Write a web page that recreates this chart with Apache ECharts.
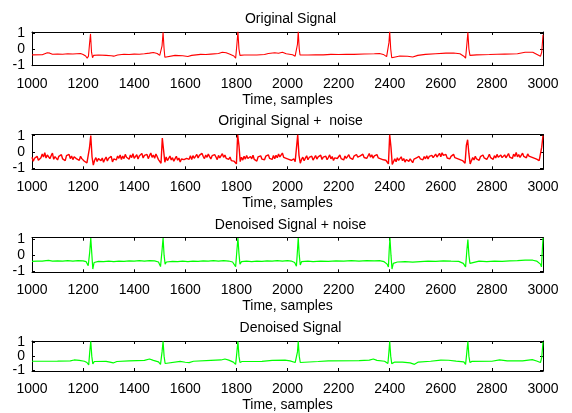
<!DOCTYPE html>
<html>
<head>
<meta charset="utf-8">
<script src="https://cdn.jsdelivr.net/npm/echarts@6/dist/echarts.min.js"></script>
<style>
  html, body { margin: 0; padding: 0; background: #fff; }
  #chart { width: 572px; height: 413px; }
</style>
</head>
<body>
<div id="chart"></div>
<script>
// Panel titles and shared axis settings
const panelTitles = ['Original Signal', 'Original Signal +  noise', 'Denoised Signal + noise', 'Denoised Signal'];
const xAxisName = 'Time, samples';
const xTicks = [1000, 1200, 1400, 1600, 1800, 2000, 2200, 2400, 2600, 2800, 3000];
const yTicks = [-1, 0, 1];

// ECG record, [sample, amplitude]
const originalSignal = [
  [1000,-0.37],[1040,-0.36],[1050,-0.30],[1060,-0.24],[1070,-0.26],[1080,-0.33],[1100,-0.31],[1120,-0.33],
  [1140,-0.30],[1160,-0.31],[1190,-0.28],[1200,-0.34],[1210,-0.44],[1216,-0.58],[1221,-0.45],[1225,0.30],
  [1229,0.95],[1233,-0.20],[1237,-0.55],[1241,-0.40],[1260,-0.38],[1290,-0.40],[1310,-0.42],[1320,-0.45],
  [1335,-0.38],[1360,-0.33],[1380,-0.35],[1400,-0.32],[1420,-0.33],[1440,-0.30],[1460,-0.26],[1475,-0.22],
  [1490,-0.28],[1500,-0.40],[1505,-0.50],[1509,0.20],[1513,1.05],[1517,0.00],[1520,-0.52],[1525,-0.40],
  [1560,-0.40],[1590,-0.42],[1610,-0.47],[1625,-0.40],[1660,-0.34],[1680,-0.35],[1700,-0.32],[1730,-0.28],
  [1745,-0.20],[1760,-0.24],[1775,-0.33],[1790,-0.44],[1797,-0.58],[1802,0.30],[1806,1.10],[1810,0.00],
  [1814,-0.40],[1830,-0.38],[1880,-0.38],[1910,-0.35],[1925,-0.28],[1950,-0.24],[1965,-0.27],[1980,-0.20],
  [1995,-0.30],[2020,-0.36],[2030,-0.45],[2036,-0.52],[2039,0.30],[2042,1.10],[2046,0.00],[2049,-0.38],
  [2080,-0.38],[2110,-0.36],[2140,-0.37],[2170,-0.34],[2200,-0.35],[2230,-0.33],[2260,-0.34],[2300,-0.31],
  [2340,-0.30],[2360,-0.28],[2375,-0.34],[2388,-0.48],[2393,-0.58],[2397,0.40],[2400,1.10],[2404,0.00],
  [2408,-0.55],[2415,-0.45],[2440,-0.44],[2470,-0.46],[2490,-0.50],[2510,-0.40],[2540,-0.34],[2580,-0.30],
  [2620,-0.26],[2650,-0.25],[2675,-0.30],[2690,-0.45],[2697,-0.58],[2702,0.30],[2706,1.05],[2710,0.00],
  [2714,-0.40],[2740,-0.37],[2790,-0.35],[2820,-0.33],[2850,-0.32],[2900,-0.30],[2930,-0.20],[2960,-0.20],
  [2975,-0.33],[2990,-0.46],[2995,-0.20],[3000,0.90]
];

// Same record with added noise, one value every 5 samples from sample 1000
const noisyStart = 1000;
const noisyStep = 5;
const noisySignal = [
  -0.32,-0.56,-0.38,-0.48,-0.26,-0.50,-0.60,-0.34,-0.12,-0.30,
  -0.04,-0.36,-0.18,-0.10,-0.40,-0.22,-0.06,-0.44,-0.28,-0.20,
  -0.48,-0.26,-0.38,-0.16,-0.42,-0.30,-0.52,-0.22,-0.34,-0.14,
  -0.40,-0.24,-0.46,-0.28,-0.18,-0.42,-0.32,-0.50,-0.26,-0.40,
  -0.34,-0.56,-0.44,-0.66,-0.55,0.25,1.00,-0.30,-0.80,-0.50,
  -0.34,-0.58,-0.40,-0.28,-0.52,-0.36,-0.62,-0.44,-0.30,-0.54,
  -0.38,-0.50,-0.26,-0.60,-0.42,-0.32,-0.48,-0.24,-0.38,-0.18,
  -0.46,-0.24,-0.40,-0.14,-0.32,-0.22,-0.44,-0.18,-0.34,-0.10,
  -0.38,-0.26,-0.16,-0.42,-0.24,-0.32,-0.08,-0.36,-0.20,-0.30,
  -0.14,-0.40,-0.22,-0.06,-0.32,-0.18,-0.38,-0.12,-0.28,-0.46,
  -0.55,-0.68,0.85,0.80,-0.62,-0.30,-0.52,-0.38,-0.24,-0.48,
  -0.34,-0.56,-0.40,-0.26,-0.50,-0.36,-0.60,-0.42,-0.32,-0.46,
  -0.54,-0.38,-0.28,-0.44,-0.22,-0.46,-0.22,-0.38,-0.28,-0.14,
  -0.36,-0.20,-0.30,-0.08,-0.26,-0.40,-0.18,-0.32,-0.12,-0.28,
  -0.42,-0.22,-0.34,-0.16,-0.30,-0.46,-0.20,-0.36,-0.24,-0.10,
  -0.32,-0.18,-0.38,-0.26,-0.44,-0.30,-0.52,-0.40,-0.55,-0.65,
  -0.72,1.05,0.40,-0.58,-0.31,-0.49,-0.25,-0.43,-0.21,-0.39,
  -0.51,-0.27,-0.41,-0.19,-0.45,-0.33,-0.55,-0.29,-0.37,-0.23,
  -0.43,-0.31,-0.47,-0.25,-0.35,-0.17,-0.39,-0.27,-0.45,-0.21,
  -0.40,-0.20,-0.34,-0.12,-0.30,-0.18,-0.06,-0.32,-0.22,-0.38,
  -0.26,-0.44,-0.32,-0.50,-0.52,-0.42,-0.58,-0.68,1.05,-0.20,
  -0.68,-0.45,-0.31,-0.53,-0.37,-0.23,-0.47,-0.33,-0.41,-0.25,
  -0.49,-0.35,-0.21,-0.43,-0.29,-0.39,-0.19,-0.45,-0.31,-0.37,
  -0.25,-0.47,-0.33,-0.17,-0.41,-0.27,-0.51,-0.35,-0.23,-0.39,
  -0.32,-0.18,-0.40,-0.28,-0.48,-0.24,-0.38,-0.30,-0.16,-0.36,
  -0.29,-0.45,-0.25,-0.37,-0.15,-0.31,-0.43,-0.23,-0.35,-0.13,
  -0.33,-0.21,-0.39,-0.27,-0.09,-0.31,-0.17,-0.37,-0.23,-0.29,
  -0.15,-0.35,-0.25,-0.41,-0.31,-0.47,-0.55,-0.50,-0.62,-0.72,
  1.05,0.30,-0.75,-0.58,-0.41,-0.59,-0.35,-0.51,-0.43,-0.29,
  -0.53,-0.39,-0.61,-0.45,-0.33,-0.57,-0.41,-0.49,-0.65,-0.43,
  -0.51,-0.35,-0.47,-0.27,-0.41,-0.33,-0.47,-0.27,-0.41,-0.23,
  -0.42,-0.26,-0.38,-0.20,-0.34,-0.24,-0.12,-0.30,-0.18,-0.08,
  -0.28,-0.04,-0.20,-0.32,-0.14,-0.36,-0.24,-0.42,-0.26,-0.34,
  -0.14,-0.34,-0.24,-0.40,-0.28,-0.46,-0.38,-0.52,-0.58,-0.68,
  0.40,0.75,-0.10,-0.72,-0.52,-0.34,-0.48,-0.26,-0.42,-0.32,
  -0.50,-0.28,-0.40,-0.18,-0.36,-0.24,-0.44,-0.30,-0.14,-0.34,
  -0.28,-0.44,-0.22,-0.36,-0.14,-0.32,-0.42,-0.18,-0.34,-0.24,
  -0.17,-0.35,-0.25,-0.09,-0.31,-0.21,-0.39,-0.13,-0.27,-0.03,
  -0.29,-0.15,-0.33,-0.21,-0.07,-0.27,-0.17,-0.35,-0.11,-0.25,
  -0.13,-0.31,-0.21,-0.37,-0.27,-0.43,-0.33,-0.52,-0.62,0.30,
  1.00
];

// Denoiser output for the noisy record, [sample, amplitude]
const denoisedNoisy = [
  [1000,-0.38],[1020,-0.36],[1040,-0.37],[1055,-0.33],[1065,-0.32],[1080,-0.36],[1100,-0.35],[1120,-0.37],
  [1140,-0.34],[1160,-0.36],[1180,-0.33],[1200,-0.35],[1212,-0.40],[1220,-0.65],[1226,0.20],[1230,1.05],
  [1234,0.10],[1238,-0.85],[1243,-0.45],[1260,-0.38],[1280,-0.40],[1300,-0.37],[1320,-0.39],[1340,-0.36],
  [1360,-0.38],[1380,-0.35],[1400,-0.37],[1420,-0.34],[1440,-0.36],[1460,-0.33],[1480,-0.35],[1495,-0.42],
  [1503,-0.70],[1509,0.30],[1513,1.05],[1517,0.00],[1521,-0.55],[1526,-0.42],[1550,-0.38],[1570,-0.40],
  [1590,-0.37],[1610,-0.39],[1630,-0.36],[1650,-0.38],[1670,-0.35],[1690,-0.37],[1710,-0.34],[1730,-0.36],
  [1750,-0.33],[1770,-0.36],[1785,-0.42],[1797,-0.70],[1802,0.30],[1806,1.05],[1810,0.10],[1814,-0.55],
  [1820,-0.40],[1840,-0.37],[1860,-0.39],[1880,-0.36],[1900,-0.38],[1920,-0.35],[1940,-0.37],[1960,-0.34],
  [1980,-0.36],[2000,-0.33],[2015,-0.36],[2028,-0.45],[2035,-0.68],[2039,0.30],[2042,1.05],[2046,0.00],
  [2050,-0.60],[2055,-0.40],[2080,-0.37],[2100,-0.39],[2130,-0.36],[2160,-0.38],[2190,-0.35],[2220,-0.37],
  [2250,-0.34],[2280,-0.36],[2310,-0.33],[2340,-0.35],[2360,-0.33],[2378,-0.40],[2390,-0.55],[2395,-0.72],
  [2398,0.30],[2401,1.05],[2405,0.00],[2409,-0.85],[2414,-0.50],[2430,-0.42],[2460,-0.40],[2490,-0.43],
  [2520,-0.39],[2550,-0.36],[2580,-0.38],[2610,-0.35],[2640,-0.37],[2670,-0.38],[2688,-0.50],[2697,-0.72],
  [2702,0.30],[2706,0.95],[2710,0.00],[2714,-0.50],[2720,-0.40],[2750,-0.37],[2780,-0.39],[2810,-0.36],
  [2840,-0.38],[2870,-0.35],[2900,-0.34],[2930,-0.30],[2960,-0.31],[2975,-0.36],[2990,-0.55],[2994,-0.72],
  [2998,0.50],[3000,1.05]
];

// Denoiser output for the clean record, [sample, amplitude]
const denoisedSignal = [
  [1000,-0.36],[1100,-0.35],[1150,-0.33],[1165,-0.27],[1185,-0.30],[1205,-0.36],[1215,-0.45],[1222,-0.62],
  [1226,0.30],[1230,1.05],[1234,0.00],[1238,-0.55],[1244,-0.38],[1290,-0.37],[1305,-0.42],[1318,-0.48],
  [1332,-0.38],[1380,-0.33],[1440,-0.30],[1460,-0.20],[1475,-0.30],[1495,-0.40],[1503,-0.58],[1509,0.30],
  [1513,1.05],[1517,0.00],[1521,-0.52],[1528,-0.38],[1580,-0.37],[1600,-0.43],[1615,-0.46],[1632,-0.36],
  [1700,-0.30],[1740,-0.27],[1755,-0.20],[1770,-0.28],[1788,-0.42],[1797,-0.58],[1802,0.30],[1806,1.05],
  [1810,0.00],[1814,-0.45],[1822,-0.38],[1900,-0.37],[1940,-0.30],[1990,-0.28],[2010,-0.33],[2030,-0.45],
  [2036,-0.55],[2039,0.30],[2042,1.05],[2046,0.00],[2050,-0.45],[2056,-0.38],[2120,-0.38],[2160,-0.33],
  [2280,-0.31],[2320,-0.28],[2336,-0.20],[2350,-0.30],[2380,-0.36],[2393,-0.52],[2397,0.30],[2400,1.05],
  [2404,0.00],[2408,-0.53],[2420,-0.42],[2450,-0.42],[2480,-0.48],[2497,-0.58],[2512,-0.42],[2560,-0.36],
  [2600,-0.28],[2630,-0.29],[2660,-0.35],[2690,-0.40],[2697,-0.58],[2702,0.30],[2706,1.05],[2710,0.00],
  [2714,-0.45],[2722,-0.37],[2800,-0.36],[2830,-0.27],[2860,-0.33],[2920,-0.33],[2958,-0.25],[2975,-0.34],
  [2990,-0.45],[2995,-0.10],[3000,1.00]
];

const noisyPairs = noisySignal.map((v, i) => [noisyStart + i * noisyStep, v]);
const panelData = [originalSignal, noisyPairs, denoisedNoisy, denoisedSignal];
const panelColors = ['#ff0000', '#ff0000', '#00ff00', '#00ff00'];
const panelLineWidths = [1.1, 1.4, 1.2, 1.2];

// Panel placement
const gridTops = [32, 134.5, 237.7, 341];
const gridHeights = [33.7, 34.8, 34.6, 33.3];
const gridLeft = 32, gridWidth = 511;

const font = 'Liberation Sans, Arial, sans-serif';
const black = '#000';

const grids = [], xAxes = [], yAxes = [], series = [], titles = [];
panelTitles.forEach((name, p) => {
  grids.push({ left: gridLeft, width: gridWidth, top: gridTops[p], height: gridHeights[p], containLabel: false });
  const xBase = {
    type: 'value', gridIndex: p, min: xTicks[0], max: xTicks[xTicks.length - 1], interval: 200,
    axisLine: { show: true, onZero: false, lineStyle: { color: black, width: 1 } },
    axisTick: { show: true, inside: true, length: 3, lineStyle: { color: black } },
    splitLine: { show: false }
  };
  xAxes.push(Object.assign({}, xBase, {
    position: 'bottom',
    name: xAxisName, nameLocation: 'middle', nameGap: 27,
    nameTextStyle: { color: black, fontSize: 14, fontFamily: font },
    axisLabel: {
      show: true, margin: 11, color: black, fontSize: 14, fontFamily: font,
      showMinLabel: true, showMaxLabel: true, formatter: v => String(v)
    }
  }));
  xAxes.push(Object.assign({}, xBase, { position: 'top', axisLabel: { show: false } }));
  const yBase = {
    type: 'value', gridIndex: p, min: -1.05, max: 1.07,
    axisLine: { show: true, onZero: false, lineStyle: { color: black, width: 1 } },
    axisTick: { show: true, inside: true, length: 3, customValues: yTicks, lineStyle: { color: black } },
    splitLine: { show: false }
  };
  yAxes.push(Object.assign({}, yBase, {
    position: 'left',
    axisLabel: { show: true, margin: 7, color: black, fontSize: 14, fontFamily: font, customValues: yTicks }
  }));
  yAxes.push(Object.assign({}, yBase, { position: 'right', axisLabel: { show: false } }));
  series.push({
    type: 'line', name: name, xAxisIndex: p * 2, yAxisIndex: p * 2,
    data: panelData[p], showSymbol: false, symbol: 'none', clip: true,
    lineStyle: { color: panelColors[p], width: panelLineWidths[p] }, itemStyle: { color: panelColors[p] }
  });
  titles.push({
    text: name, left: gridLeft + gridWidth / 2 - 2, top: gridTops[p] - 25, textAlign: 'center',
    textStyle: { color: black, fontSize: 14, fontWeight: 'normal', fontFamily: font }
  });
});

const chart = echarts.init(document.getElementById('chart'), null, { renderer: 'canvas' });
chart.setOption({
  animation: false,
  backgroundColor: '#fff',
  title: titles,
  grid: grids,
  xAxis: xAxes,
  yAxis: yAxes,
  series: series
});
</script>
</body>
</html>
